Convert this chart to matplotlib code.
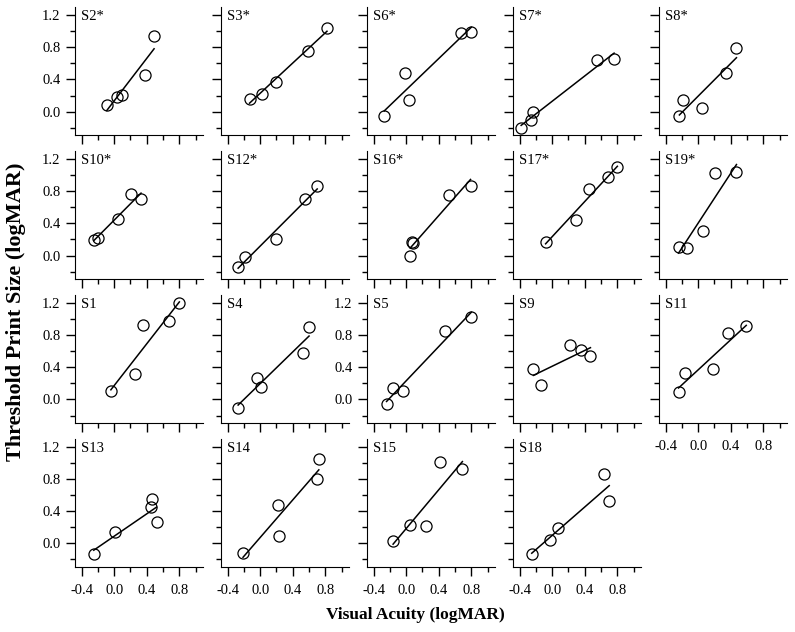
import numpy as np
import matplotlib
matplotlib.use("Agg")
import matplotlib.pyplot as plt
from matplotlib.ticker import MultipleLocator

plt.rcParams["font.family"] = ["Liberation Serif", "DejaVu Serif"]

# visual acuity (x) and threshold print size (y), logMAR, per subject
S2_VA = [-0.09, 0.03, 0.10, 0.38, 0.49]
S2_TPS = [0.08, 0.18, 0.21, 0.46, 0.94]
S3_VA = [-0.13, 0.02, 0.19, 0.59, 0.82]
S3_TPS = [0.16, 0.22, 0.37, 0.75, 1.04]
S6_VA = [-0.27, -0.01, 0.03, 0.67, 0.80]
S6_TPS = [-0.05, 0.48, 0.14, 0.98, 0.99]
S7_VA = [-0.38, -0.26, -0.23, 0.55, 0.76]
S7_TPS = [-0.20, -0.10, -0.01, 0.64, 0.66]
S8_VA = [-0.23, -0.19, 0.05, 0.34, 0.47]
S8_TPS = [-0.05, 0.15, 0.04, 0.48, 0.79]

S10_VA = [-0.25, -0.20, 0.05, 0.21, 0.33]
S10_TPS = [0.19, 0.22, 0.46, 0.77, 0.70]
S12_VA = [-0.27, -0.18, 0.20, 0.55, 0.70]
S12_TPS = [-0.14, -0.02, 0.20, 0.70, 0.86]
S16_VA = [0.05, 0.07, 0.09, 0.52, 0.79]
S16_TPS = [-0.01, 0.17, 0.15, 0.75, 0.87]
S17_VA = [-0.08, 0.29, 0.45, 0.69, 0.80]
S17_TPS = [0.17, 0.44, 0.83, 0.98, 1.10]
S19_VA = [-0.24, -0.14, 0.06, 0.21, 0.47]
S19_TPS = [0.11, 0.10, 0.30, 1.02, 1.04]

S1_VA = [-0.04, 0.25, 0.36, 0.67, 0.80]
S1_TPS = [0.10, 0.32, 0.92, 0.97, 1.20]
S4_VA = [-0.27, -0.04, 0.01, 0.53, 0.60]
S4_TPS = [-0.11, 0.27, 0.16, 0.58, 0.90]
S5_VA = [-0.24, -0.16, -0.04, 0.48, 0.80]
S5_TPS = [-0.06, 0.14, 0.10, 0.85, 1.02]
S9_VA = [-0.23, -0.14, 0.22, 0.35, 0.47]
S9_TPS = [0.38, 0.18, 0.68, 0.61, 0.54]
S11_VA = [-0.24, -0.16, 0.18, 0.37, 0.59]
S11_TPS = [0.09, 0.33, 0.38, 0.82, 0.91]

S13_VA = [-0.25, 0.01, 0.45, 0.46, 0.52]
S13_TPS = [-0.13, 0.14, 0.45, 0.55, 0.26]
S14_VA = [-0.21, 0.22, 0.23, 0.70, 0.72]
S14_TPS = [-0.12, 0.48, 0.09, 0.80, 1.05]
S15_VA = [-0.16, 0.05, 0.24, 0.41, 0.69]
S15_TPS = [0.03, 0.23, 0.21, 1.01, 0.92]
S18_VA = [-0.25, -0.03, 0.07, 0.64, 0.70]
S18_TPS = [-0.13, 0.04, 0.19, 0.86, 0.53]

PANELS = [
    ["S2*", S2_VA, S2_TPS], ["S3*", S3_VA, S3_TPS], ["S6*", S6_VA, S6_TPS],
    ["S7*", S7_VA, S7_TPS], ["S8*", S8_VA, S8_TPS],
    ["S10*", S10_VA, S10_TPS], ["S12*", S12_VA, S12_TPS], ["S16*", S16_VA, S16_TPS],
    ["S17*", S17_VA, S17_TPS], ["S19*", S19_VA, S19_TPS],
    ["S1", S1_VA, S1_TPS], ["S4", S4_VA, S4_TPS], ["S5", S5_VA, S5_TPS],
    ["S9", S9_VA, S9_TPS], ["S11", S11_VA, S11_TPS],
    ["S13", S13_VA, S13_TPS], ["S14", S14_VA, S14_TPS], ["S15", S15_VA, S15_TPS],
    ["S18", S18_VA, S18_TPS],
]

W, H = 795, 632
fig = plt.figure(figsize=(W / 100, H / 100), dpi=100)

for idx, (name, va, tps) in enumerate(PANELS):
    row, col = divmod(idx, 5)
    left = 75 + 146 * col
    top = 7 + 143.9 * row
    ax = fig.add_axes([left / W, 1 - (top + 128) / H, 128 / W, 128 / H])
    ax.set_xlim(-0.48, 1.09)
    ax.set_ylim(-0.29, 1.30)
    for side in ("top", "right"):
        ax.spines[side].set_visible(False)
    ax.xaxis.set_major_locator(MultipleLocator(0.4))
    ax.xaxis.set_minor_locator(MultipleLocator(0.2))
    ax.yaxis.set_major_locator(MultipleLocator(0.4))
    ax.yaxis.set_minor_locator(MultipleLocator(0.2))
    ax.tick_params(which="major", length=6.5, width=1, labelsize=10.5, pad=4)
    ax.tick_params(axis="x", which="major", pad=6)
    ax.tick_params(which="minor", length=3.8, width=1)
    ax.xaxis.set_major_formatter(lambda v, p: f"{v:.1f}".replace("-0.0", "0.0"))
    ax.yaxis.set_major_formatter(lambda v, p: f"{v:.1f}".replace("-0.0", "0.0"))

    show_y = col == 0 or name == "S5"
    show_x = row == 3 or name == "S11"
    ax.tick_params(axis="y", labelleft=show_y)
    ax.tick_params(axis="x", labelbottom=show_x)

    x = np.array(va)
    y = np.array(tps)
    slope, icpt = np.polyfit(x, y, 1)
    xl = np.array([x.min(), x.max()])
    ax.plot(xl, slope * xl + icpt, color="black", lw=1.1)
    ax.plot(x, y, "o", mfc="none", mec="black", mew=0.9, ms=8)
    ax.text(0.05, 0.975, name, transform=ax.transAxes, ha="left", va="top",
            fontsize=10.5)

fig.text(415 / W, 1 - 615 / H, "Visual Acuity (logMAR)", ha="center",
         va="center", fontsize=12.5, fontweight="bold")
fig.text(16 / W, 1 - 312 / H, "Threshold Print Size (logMAR)", ha="center",
         va="center", rotation=90, fontsize=16, fontweight="bold")

fig.savefig("out.png", dpi=100)
